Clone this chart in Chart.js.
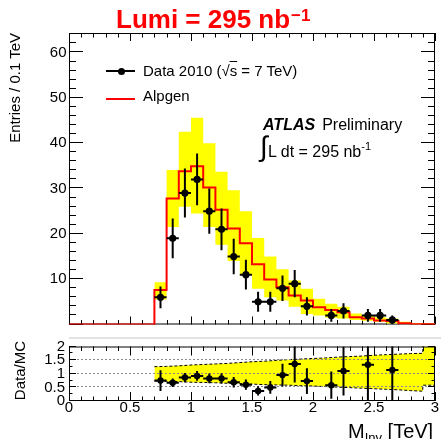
<!DOCTYPE html>
<html>
<head>
<meta charset="utf-8">
<script src="https://cdn.jsdelivr.net/npm/chart.js@4.4.1/dist/chart.umd.min.js"></script>
<style>
  body { margin: 0; background: #fff; font-family: "Liberation Sans", Arial, sans-serif; }
  #wrap { position: relative; width: 441px; height: 439px; overflow: hidden; }
  canvas { position: absolute; left: 0; }
  .txt { position: absolute; white-space: nowrap; color: #000; }
  .vlab { transform-origin: 0 0; transform: rotate(-90deg); text-align: right; }
</style>
</head>
<body>
<div id="wrap">
  <canvas id="mainChart" width="441" height="336" style="top:0"></canvas>
  <canvas id="ratioChart" width="441" height="104" style="top:335px"></canvas>
  <div style="position:absolute; left:69px; top:337px; width:372px; height:2px; background:#e2e2e2"></div>

  <div class="txt" style="left:116px; top:6px; font-size:26px; line-height:26px; font-weight:bold; color:#ff0000">Lumi = 295 nb<span style="font-size:17px; position:relative; top:-7px; margin-left:1px">−1</span></div>

  <div class="txt vlab" style="left:7px; top:233px; width:200px; font-size:15px; line-height:15px">Entries / 0.1 TeV</div>
  <div class="txt vlab" style="left:12px; top:461px; width:120px; font-size:15px; line-height:15px">Data/MC</div>
  <div class="txt" style="left:348px; top:420.5px; font-size:20px; line-height:20px">M<span style="font-size:13px; position:relative; top:4px">Inv</span> [TeV]</div>

  <!-- legend -->
  <div style="position:absolute; left:106px; top:70px; width:29px; height:1.5px; background:#000"></div>
  <div style="position:absolute; left:117.5px; top:67.5px; width:7px; height:7px; border-radius:50%; background:#000"></div>
  <div class="txt" style="left:143px; top:63px; font-size:15px; line-height:15px">Data 2010 (√<span style="text-decoration:overline">s</span> = 7 TeV)</div>
  <div style="position:absolute; left:106px; top:97.5px; width:29px; height:2px; background:#ff0000"></div>
  <div class="txt" style="left:143px; top:88px; font-size:15px; line-height:15px">Alpgen</div>

  <div class="txt" style="left:263px; top:116.5px; font-size:16px; line-height:16px"><b><i>ATLAS</i></b><span style="margin-left:7px">Preliminary</span></div>
  <div class="txt" style="left:260px; top:133px; font-size:28px; line-height:28px">∫</div>
  <div class="txt" style="left:268px; top:144px; font-size:16px; line-height:16px">L dt = 295 nb<span style="font-size:11px; position:relative; top:-7px">-1</span></div>
</div>

<script>
// histogram binning, 0.1 TeV bins from 0.7 to 3.0 TeV
const binEdges = [0.7, 0.8, 0.9, 1.0, 1.1, 1.2, 1.3, 1.4, 1.5, 1.6, 1.7, 1.8, 1.9, 2.0, 2.1, 2.2, 2.3, 2.4, 2.5, 2.6, 2.7, 2.8, 2.9, 3.0];
// Alpgen prediction per bin and its uncertainty envelope
const alpgen     = [7.6, 27.8, 33.8, 34.9, 30.2, 25.3, 21.2, 17.9, 13.3, 9.9, 8.2, 6.4, 5.3, 3.8, 3.2, 2.7, 1.6, 1.35, 0.9, 0.75, 0.25, 0.08, 0.08];
const alpgenUp   = [9.3, 34.1, 42.5, 45.6, 40.0, 33.7, 29.6, 25.0, 19.1, 15.0, 12.2, 9.7, 7.9, 5.7, 4.6, 3.9, 2.4, 2.1, 1.6, 1.35, 0.6, 0.25, 0.2];
const alpgenDown = [5.5, 21.5, 26.0, 24.5, 21.5, 17.6, 14.0, 10.8, 7.9, 6.0, 5.3, 3.9, 2.3, 2.0, 1.5, 1.3, 1.0, 0.85, 0.6, 0.2, 0.05, 0, 0];

// data 2010
const dataMass    = [0.75, 0.85, 0.95, 1.05, 1.15, 1.25, 1.35, 1.45, 1.55, 1.65, 1.75, 1.85, 1.95, 2.15, 2.25, 2.45, 2.55, 2.65];
const dataEntries = [6, 19, 29, 32, 25, 21, 15, 11, 5, 5, 8, 9, 4, 2, 3, 2, 2, 1];
const dataErr     = [2.4, 4.4, 5.4, 5.7, 5.0, 4.6, 3.9, 3.3, 2.2, 2.2, 2.8, 3.0, 2.0, 1.4, 1.7, 1.4, 1.4, 1.0];

// data / MC ratio
const ratioMass = [0.75, 0.85, 0.95, 1.05, 1.15, 1.25, 1.35, 1.45, 1.55, 1.65, 1.75, 1.85, 1.95, 2.15, 2.25, 2.45, 2.65];
const ratioVal  = [0.75, 0.67, 0.86, 0.92, 0.83, 0.83, 0.69, 0.60, 0.37, 0.50, 0.95, 1.36, 0.73, 0.58, 1.10, 1.33, 1.14];
const ratioErr  = [0.38, 0.16, 0.17, 0.18, 0.18, 0.19, 0.19, 0.19, 0.17, 0.23, 0.42, 0.68, 0.47, 0.50, 0.90, 1.40, 1.20];

// relative MC uncertainty band in the ratio panel
const ratioBandEdges = [0.7, 0.8, 0.9, 1.0, 1.1, 1.2, 1.3, 1.4, 1.5, 1.6, 1.7, 1.8, 1.9, 2.0, 2.1, 2.2, 2.3, 2.4, 2.5, 2.6, 2.7, 2.8, 2.9, 2.9, 3.0];
const ratioBandUp    = [1.26, 1.27, 1.29, 1.32, 1.34, 1.36, 1.38, 1.41, 1.44, 1.46, 1.49, 1.52, 1.54, 1.56, 1.58, 1.61, 1.63, 1.65, 1.68, 1.70, 1.72, 1.74, 1.75, 2.2, 2.2];
const ratioBandDown  = [0.73, 0.72, 0.71, 0.69, 0.68, 0.67, 0.65, 0.64, 0.62, 0.60, 0.59, 0.58, 0.56, 0.55, 0.53, 0.51, 0.49, 0.47, 0.45, 0.43, 0.41, 0.38, 0.36, 0.58, 0.58];

// axis labels
const mainYTicks  = [10, 20, 30, 40, 50, 60];
const ratioYTicks = [0, 0.5, 1, 1.5, 2];
const ratioXTicks = [0, 0.5, 1, 1.5, 2, 2.5, 3];
const ratioGrid   = [0.5, 1, 1.5];

const FONT = 'Liberation Sans';

// one point per bin edge, the last edge repeats the last bin
const stepPoints = vals => binEdges.map((e, i) => ({ x: e, y: vals[Math.min(i, vals.length - 1)] }));

// ROOT-like frame with inward ticks on all four sides
function drawFrame(chart, o) {
    const { ctx, chartArea: a, scales: { x, y } } = chart;
    ctx.save();
    ctx.strokeStyle = '#000';
    ctx.lineWidth = 1;
    ctx.strokeRect(a.left + 0.5, a.top + 0.5, a.right - a.left - 1, a.bottom - a.top - 1);
    ctx.beginPath();
    for (let i = 0; x.min + i * o.xStep <= x.max + 1e-9; i++) {
        const px = Math.round(x.getPixelForValue(x.min + i * o.xStep)) + 0.5;
        const len = i % o.xEvery === 0 ? o.xMajorLen : o.xMinorLen;
        ctx.moveTo(px, a.bottom); ctx.lineTo(px, a.bottom - len);
        ctx.moveTo(px, a.top); ctx.lineTo(px, a.top + len);
    }
    for (let i = 0; y.min + i * o.yStep <= y.max + 1e-9; i++) {
        const py = Math.round(y.getPixelForValue(y.min + i * o.yStep)) - 0.5;
        const len = i % o.yEvery === 0 ? o.yMajorLen : o.yMinorLen;
        ctx.moveTo(a.left, py); ctx.lineTo(a.left + len, py);
        ctx.moveTo(a.right, py); ctx.lineTo(a.right - len, py);
    }
    ctx.stroke();
    ctx.restore();
}

const frameTicks = {
    id: 'frameTicks',
    beforeDatasetsDraw(chart, args, o) { if (o.under) drawFrame(chart, o); },
    afterDatasetDraw(chart, args, o) {
        if (!o.grid || args.index !== o.gridAfter) return;
        const { ctx, chartArea: a, scales: { y } } = chart;
        ctx.save();
        ctx.strokeStyle = '#8a8a8a';
        ctx.lineWidth = 1;
        ctx.setLineDash([2, 2]);
        ctx.beginPath();
        o.grid.forEach(v => {
            const py = Math.round(y.getPixelForValue(v)) - 0.5;
            ctx.moveTo(a.left, py); ctx.lineTo(a.right, py);
        });
        ctx.stroke();
        ctx.restore();
    },
    afterDatasetsDraw(chart, args, o) { if (!o.under) drawFrame(chart, o); }
};

// vertical stat errors plus half-bin horizontal bars
const errorBars = {
    id: 'errorBars',
    afterDatasetsDraw(chart, args, o) {
        const { ctx, chartArea: a, scales: { x, y } } = chart;
        ctx.save();
        ctx.beginPath();
        ctx.rect(a.left, a.top, a.right - a.left, a.bottom - a.top);
        ctx.clip();
        ctx.strokeStyle = '#000';
        ctx.lineWidth = o.width;
        ctx.beginPath();
        chart.data.datasets[o.index].data.forEach(p => {
            const px = x.getPixelForValue(p.x);
            const py = y.getPixelForValue(p.y);
            ctx.moveTo(px, y.getPixelForValue(p.y - p.err));
            ctx.lineTo(px, y.getPixelForValue(p.y + p.err));
            ctx.moveTo(x.getPixelForValue(p.x - o.half), py);
            ctx.lineTo(x.getPixelForValue(p.x + o.half), py);
        });
        ctx.stroke();
        ctx.restore();
    }
};

// 'before': horizontal at the bin value, then the vertical step at the next edge
const bandLine = { stepped: 'before', borderColor: 'rgba(0,0,0,0)', borderWidth: 1, pointRadius: 0 };

new Chart(document.getElementById('mainChart'), {
    type: 'line',
    data: {
        datasets: [
            {
                label: 'Data 2010',
                data: dataMass.map((m, i) => ({ x: m, y: dataEntries[i], err: dataErr[i] })),
                showLine: false,
                pointRadius: 3.6,
                pointBorderWidth: 0,
                pointBackgroundColor: '#000'
            },
            {
                label: 'Alpgen',
                data: [{ x: 0, y: 0 }, ...stepPoints(alpgen)],
                stepped: 'before',
                borderColor: '#ff0000',
                borderWidth: 2,
                pointRadius: 0,
                fill: false
            },
            { ...bandLine, label: 'band up', data: stepPoints(alpgenUp), fill: false },
            { ...bandLine, label: 'band down', data: stepPoints(alpgenDown), fill: '-1', backgroundColor: '#ffff00' }
        ]
    },
    options: {
        responsive: false,
        animation: false,
        events: [],
        layout: { padding: { top: 33, right: 6, bottom: 6, left: 0 } },
        scales: {
            x: { type: 'linear', min: 0, max: 3, display: false },
            y: {
                type: 'linear', min: 0, max: 64.3,
                grid: { display: false, drawTicks: false },
                border: { display: false },
                afterBuildTicks: s => { s.ticks = mainYTicks.map(v => ({ value: v })); },
                afterFit: s => { s.width = 69; },
                ticks: { autoSkip: false, padding: 2.5, color: '#000', font: { family: FONT, size: 15 }, callback: v => `${v}` }
            }
        },
        plugins: {
            legend: { display: false },
            tooltip: { enabled: false },
            frameTicks: { under: true, xStep: 0.1, xEvery: 5, xMinorLen: 4.5, xMajorLen: 8, yStep: 2, yEvery: 5, yMinorLen: 7, yMajorLen: 14 },
            errorBars: { index: 0, width: 2, half: 0.05 }
        }
    },
    plugins: [frameTicks, errorBars]
});

new Chart(document.getElementById('ratioChart'), {
    type: 'line',
    data: {
        datasets: [
            {
                label: 'Data/MC',
                data: ratioMass.map((m, i) => ({ x: m, y: ratioVal[i], err: ratioErr[i] })),
                showLine: false,
                pointRadius: 3.2,
                pointBorderWidth: 0,
                pointBackgroundColor: '#000'
            },
            {
                label: 'band up',
                data: ratioBandEdges.map((e, i) => ({ x: e, y: ratioBandUp[i] })),
                borderColor: '#000', borderWidth: 1, borderDash: [3, 2], pointRadius: 0, fill: false
            },
            {
                label: 'band down',
                data: ratioBandEdges.map((e, i) => ({ x: e, y: ratioBandDown[i] })),
                borderColor: '#000', borderWidth: 1, borderDash: [3, 2], pointRadius: 0,
                fill: '-1', backgroundColor: '#ffff00'
            }
        ]
    },
    options: {
        responsive: false,
        animation: false,
        events: [],
        layout: { padding: { top: 6, right: 6, bottom: 0, left: 0 } },
        scales: {
            x: {
                type: 'linear', min: 0, max: 3,
                grid: { display: false, drawTicks: false },
                border: { display: false },
                afterBuildTicks: s => { s.ticks = ratioXTicks.map(v => ({ value: v })); },
                afterFit: s => { s.height = 38; },
                ticks: { autoSkip: false, padding: -1, maxRotation: 0, color: '#000', font: { family: FONT, size: 15, lineHeight: 1 }, callback: v => `${v}` }
            },
            y: {
                type: 'linear', min: 0, max: 2,
                grid: { display: false, drawTicks: false },
                border: { display: false },
                afterBuildTicks: s => { s.ticks = ratioYTicks.map(v => ({ value: v })); },
                afterFit: s => { s.width = 69; },
                ticks: { autoSkip: false, padding: 4, color: '#000', font: { family: FONT, size: 15, lineHeight: 1 }, callback: v => `${v}` }
            }
        },
        plugins: {
            legend: { display: false },
            tooltip: { enabled: false },
            frameTicks: { under: false, xStep: 0.1, xEvery: 5, xMinorLen: 4.5, xMajorLen: 9, yStep: 0.25, yEvery: 2, yMinorLen: 3.5, yMajorLen: 7, grid: ratioGrid, gridAfter: 1 },
            errorBars: { index: 0, width: 2, half: 0.05 }
        }
    },
    plugins: [frameTicks, errorBars]
});
</script>
</body>
</html>
